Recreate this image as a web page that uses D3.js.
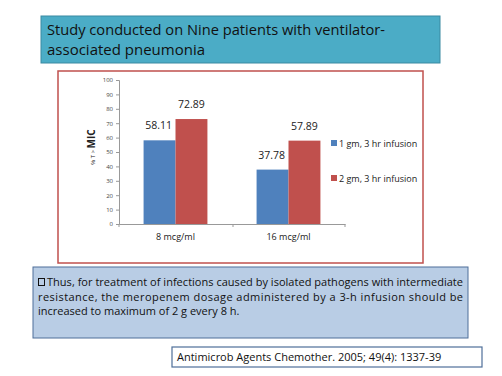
<!doctype html>
<html>
    <head>
        <script src="https://d3js.org/d3.v7.min.js"></script>
        <style>
            body { margin: 0; background: #fff; }
            text { font-family: "Open Sans", "Liberation Sans", sans-serif; }
        </style>
    </head>
    <body>
        <script>
            // chart data
            var categories = ["8 mcg/ml", "16 mcg/ml"];
            var seriesNames = ["1 gm, 3 hr infusion", "2 gm, 3 hr infusion"];
            var oneGm = [58.11, 37.78];
            var twoGm = [72.89, 57.89];
            var yTicks = [0, 10, 20, 30, 40, 50, 60, 70, 80, 90, 100];
            var colors = ["#4f81bd", "#c0504d"];

            var titleLines = ["Study conducted on Nine patients with ventilator-", "associated pneumonia"];
            var noteLines = [
                "Thus, for treatment of infections caused by isolated pathogens with intermediate",
                "resistance, the meropenem dosage administered by a 3-h infusion should be",
                "increased to maximum of 2 g every 8 h."
            ];
            var citation = "Antimicrob Agents Chemother. 2005; 49(4): 1337-39";

            var width = 502, height = 376;

            var svg = d3.select("body").append("svg")
                .attr("width", width)
                .attr("height", height);

            // title box
            svg.append("rect")
                .attr("x", 41).attr("y", 16)
                .attr("width", 399).attr("height", 47)
                .attr("fill", "#4bacc6")
                .attr("stroke", "#3a8aa2")
                .attr("stroke-width", 1);

            svg.selectAll(".title")
                .data(titleLines)
                .enter().append("text")
                .attr("class", "title")
                .attr("x", 47)
                .attr("y", function(d, i) { return 35 + i * 20; })
                .attr("font-size", "15px")
                .attr("fill", "#111")
                .attr("textLength", function(d, i) { return i === 0 ? 338 : null; })
                .attr("lengthAdjust", "spacingAndGlyphs")
                .text(function(d) { return d; });

            // chart frame
            svg.append("rect")
                .attr("x", 58).attr("y", 71)
                .attr("width", 365).attr("height", 192)
                .attr("fill", "#fff")
                .attr("stroke", "#c0504d")
                .attr("stroke-width", 1.5);

            var x0 = d3.scaleBand()
                .domain(categories)
                .range([119, 345]);

            var x1 = d3.scaleBand()
                .domain([0, 1])
                .range([0, x0.bandwidth()])
                .paddingInner(0)
                .paddingOuter(0.77);

            var y = d3.scaleLinear()
                .domain([0, 100])
                .range([224, 80]);

            // y axis
            var yAxis = svg.append("g")
                .attr("transform", "translate(119,0)")
                .call(d3.axisLeft(y).tickValues(yTicks).tickSize(3).tickPadding(3));
            yAxis.select(".domain").attr("stroke", "#999");
            yAxis.selectAll(".tick line").attr("stroke", "#999");
            yAxis.selectAll(".tick text")
                .attr("font-size", "6px")
                .attr("fill", "#444");

            // x axis
            var xAxis = svg.append("g")
                .attr("transform", "translate(0,224)")
                .call(d3.axisBottom(x0).tickSize(0).tickPadding(10));
            xAxis.select(".domain").attr("stroke", "#999");
            xAxis.selectAll(".tick text")
                .attr("font-size", "9px")
                .attr("fill", "#222");

            // category divider ticks
            svg.selectAll(".divtick")
                .data([119, 233, 345])
                .enter().append("line")
                .attr("x1", function(d) { return d; })
                .attr("x2", function(d) { return d; })
                .attr("y1", 224).attr("y2", 227)
                .attr("stroke", "#999");

            var rows = categories.map(function(c, i) {
                return { cat: c, values: [oneGm[i], twoGm[i]] };
            });

            var groups = svg.selectAll(".grp")
                .data(rows)
                .enter().append("g")
                .attr("class", "grp")
                .attr("transform", function(d) { return "translate(" + x0(d.cat) + ",0)"; });

            groups.selectAll("rect")
                .data(function(d) { return d.values; })
                .enter().append("rect")
                .attr("x", function(d, i) { return x1(i); })
                .attr("y", function(d) { return y(d); })
                .attr("width", x1.bandwidth())
                .attr("height", function(d) { return y(0) - y(d); })
                .attr("fill", function(d, i) { return colors[i]; });

            groups.selectAll(".lbl")
                .data(function(d) { return d.values; })
                .enter().append("text")
                .attr("class", "lbl")
                .attr("x", function(d, i) { return x1(i) + x1.bandwidth() / 2 + (i === 0 ? -1 : 0); })
                .attr("y", function(d) { return y(d) - 11; })
                .attr("text-anchor", "middle")
                .attr("font-size", "10.5px")
                .attr("fill", "#222")
                .text(function(d) { return d.toFixed(2); });

            // y axis title
            var yt = svg.append("text")
                .attr("transform", "translate(95,147) rotate(-90)")
                .attr("text-anchor", "middle")
                .attr("fill", "#222");
            yt.append("tspan").attr("font-size", "6px").text("% T > ");
            yt.append("tspan").attr("font-size", "10px").attr("font-weight", "bold").text("MIC");

            // legend
            var legend = svg.selectAll(".legend")
                .data(seriesNames)
                .enter().append("g")
                .attr("class", "legend")
                .attr("transform", function(d, i) { return "translate(331," + (143 + i * 35) + ")"; });
            legend.append("rect")
                .attr("x", 0).attr("y", -3)
                .attr("width", 6).attr("height", 6)
                .attr("fill", function(d, i) { return colors[i]; });
            legend.append("text")
                .attr("x", 8).attr("y", 3.5)
                .attr("font-size", "9px")
                .attr("fill", "#222")
                .text(function(d) { return d; });

            // note box
            svg.append("rect")
                .attr("x", 33).attr("y", 267)
                .attr("width", 435).attr("height", 71)
                .attr("fill", "#b9cde5")
                .attr("stroke", "#4f6f99")
                .attr("stroke-width", 1);

            svg.selectAll(".note")
                .data(noteLines)
                .enter().append("text")
                .attr("class", "note")
                .attr("x", function(d, i) { return i === 0 ? 47 : 38; })
                .attr("y", function(d, i) { return 286 + i * 14.5; })
                .attr("font-size", "11px")
                .attr("fill", "#111")
                .attr("textLength", function(d, i) { return i === 0 ? 416 : (i === 1 ? 425 : null); })
                .attr("lengthAdjust", "spacing")
                .text(function(d) { return d; });

            // checkbox bullet
            svg.append("rect")
                .attr("x", 38.5).attr("y", 278.5)
                .attr("width", 6).attr("height", 7)
                .attr("fill", "none")
                .attr("stroke", "#111")
                .attr("stroke-width", 1);

            // citation box
            svg.append("rect")
                .attr("x", 172).attr("y", 347)
                .attr("width", 310).attr("height", 20)
                .attr("fill", "#fff")
                .attr("stroke", "#4f6f99")
                .attr("stroke-width", 1.2);

            svg.append("text")
                .attr("x", 177).attr("y", 361)
                .attr("font-size", "11px")
                .attr("fill", "#111")
                .text(citation);
        </script>
    </body>
</html>
